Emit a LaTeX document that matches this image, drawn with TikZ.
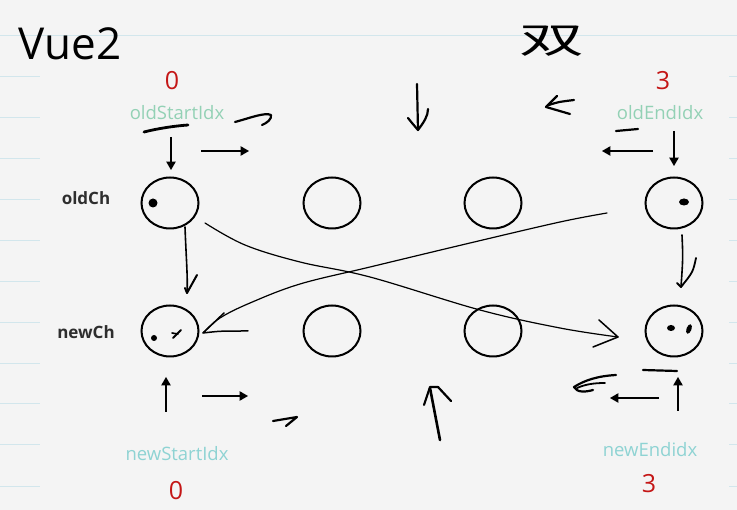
\documentclass[tikz,border=0pt]{standalone}
\usepackage{fontspec}
\setmainfont{Open Sans}
\newfontfamily\cjk{Noto Sans CJK SC}
\usetikzlibrary{arrows,shapes.geometric}
\definecolor{paper}{HTML}{F4F4F4}
\definecolor{rulecol}{HTML}{D2E6EC}
\definecolor{idxgreen}{HTML}{93D1B5}
\definecolor{idxblue}{HTML}{8ED3D3}
\definecolor{numred}{HTML}{C41616}
\definecolor{labgray}{HTML}{2E2E2E}

\begin{document}
\begin{tikzpicture}[x=1pt,y=-1pt,
  ring/.style={ellipse,draw,line width=2pt,minimum width=57pt,minimum height=51pt,inner sep=0pt},
  pen/.style={line width=2.2pt,line cap=round,line join=round},
  thinpen/.style={line width=1.2pt,line cap=round,line join=round},
  ptr/.style={line width=1.3pt,-triangle 60},
  num/.style={text=numred,font=\fontsize{25}{25}\selectfont},
  idx/.style={font=\fontsize{18.5}{18.5}\selectfont},
  row/.style={text=labgray,font=\fontsize{17}{17}\selectfont\bfseries}]

\fill[paper] (0,0) rectangle (737,510);
\useasboundingbox (0,0) rectangle (737,510);

% notebook rules
\draw[rulecol,line width=0.8pt] (0,35) -- (737,35);
\foreach \yy in {76,117,158,199,240,281,322,363,403,444,486} {
  \draw[rulecol,line width=0.8pt] (0,\yy) -- (40,\yy);
  \draw[rulecol,line width=0.8pt] (729,\yy) -- (737,\yy);
}

\node (v1) at (70,44) {\fontsize{44}{44}\selectfont Vue2};
\node (v2) at (552,41) {\cjk\fontsize{36}{36}\selectfont\scalebox{1.8}[1]{双}};

% the two rows
\node[ring] (v3) at (170,203) {};
\node[ring] (v4) at (332,203) {};
\node[ring] (v5) at (493,203) {};
\node[ring] (v6) at (674,203) {};
\node[ring] (v7) at (170,331) {};
\node[ring] (v8) at (332,331) {};
\node[ring] (v9) at (493,331) {};
\node[ring] (v10) at (674,331) {};
\node[row] (v11) at (86,198) {oldCh};
\node[row] (v12) at (86,332) {newCh};

% indices
\node[num] (v13) at (172,81) {0};
\node[idx,text=idxgreen] (v14) at (177,113) {oldStartIdx};
\node[num] (v15) at (663,81) {3};
\node[idx,text=idxgreen] (v16) at (660,113) {oldEndIdx};
\node[idx,text=idxblue] (v17) at (177,454) {newStartIdx};
\node[num] (v18) at (176,491) {0};
\node[idx,text=idxblue] (v19) at (650,450) {newEndidx};
\node[num] (v20) at (649,484) {3};

\coordinate (v21) at (171,137);
\coordinate (v22) at (171,170);
\coordinate (v23) at (201,151);
\coordinate (v24) at (249,151);
\coordinate (v25) at (653,151);
\coordinate (v26) at (602,151);
\coordinate (v27) at (674,131);
\coordinate (v28) at (674,166);
\coordinate (v29) at (166,412);
\coordinate (v30) at (166,377);
\coordinate (v31) at (202,396);
\coordinate (v32) at (248,396);
\coordinate (v33) at (659,398);
\coordinate (v34) at (610,398);
\coordinate (v35) at (678,411);
\coordinate (v36) at (678,377);
\draw [ptr] (v21) -- (v22);
\draw [ptr] (v23) -- (v24);
\draw [ptr] (v25) -- (v26);
\draw [ptr] (v27) -- (v28);
\draw [ptr] (v29) -- (v30);
\draw [ptr] (v31) -- (v32);
\draw [ptr] (v33) -- (v34);
\draw [ptr] (v35) -- (v36);

% pen marks
\draw[pen,line width=2.8pt] (144,132) .. controls (160,128) and (175,126) .. (188,125);
\draw[pen] (235,122) .. controls (250,118) and (265,112) .. (271,115) .. controls (272,119) and (267,123) .. (262,125);
\draw[pen] (417,84) -- (418,130);
\draw[pen] (408,118) .. controls (412,123) .. (418,130) .. controls (424,122) and (428,116) .. (428,109);
\draw[pen] (557,96) -- (546,107) -- (570,114);
\draw[pen] (549,105) .. controls (558,102) .. (574,100);
\draw[pen] (616,131) -- (638,129);
\draw[pen] (273,421) -- (297,417) -- (286,426);
\draw[pen,line width=2.6pt] (440,440) -- (430,388);
\draw[pen] (424,405) -- (430,387) -- (438,387) -- (451,401);
\draw[pen] (616,375) .. controls (598,376) and (585,380) .. (574,387) .. controls (577,393) and (586,392) .. (593,390);
\draw[pen,line width=1.8pt] (577,388) .. controls (586,384) and (595,383) .. (605,383);
\draw[pen] (643,370) -- (677,371);

% marks inside the circles
\fill (153,203) circle[radius=4.5pt];
\fill (684,202) ellipse[x radius=5pt,y radius=3.5pt];
\fill (154,338) circle[radius=3pt];
\draw[pen,line width=1.8pt] (173,338) -- (181,330);
\draw[pen,line width=1.6pt] (172,333) -- (178,334);
\fill (671,328) ellipse[x radius=4pt,y radius=3pt];
\fill[rotate around={-20:(689,329)}] (689,329) ellipse[x radius=2.5pt,y radius=5pt];

% swaps
\coordinate (v37) at (185,227);
\coordinate (v38) at (187,293);
\draw[thinpen,line width=1.6pt] (v37) .. controls (186,255) and (188,280) .. (v38);
\draw[pen,line width=2pt] (197,275) -- (v38) -- (185,288);
\coordinate (v39) at (682,235);
\coordinate (v40) at (681,287);
\draw[thinpen,line width=1.6pt] (v39) .. controls (683,258) .. (v40);
\draw[pen,line width=1.8pt] (696,258) .. controls (693,272) .. (v40) -- (677,283);
\coordinate (v41) at (205,223);
\coordinate (v42) at (618,337);
\draw[thinpen] plot[smooth,tension=0.6] coordinates {(v41) (245,245) (300,262) (370,277) (480,310) (560,328) (v42)};
\draw[thinpen,line width=1.5pt] (599,320) -- (v42) -- (593,347);
\coordinate (v43) at (607,213);
\coordinate (v44) at (203,333);
\draw[thinpen] plot[smooth,tension=0.6] coordinates {(v43) (560,222) (470,243) (370,267) (300,284) (250,303) (220,318) (v44)};
\draw[thinpen,line width=1.5pt] (224,313) -- (v44) .. controls (220,331) .. (248,331);

\end{tikzpicture}
\end{document}
